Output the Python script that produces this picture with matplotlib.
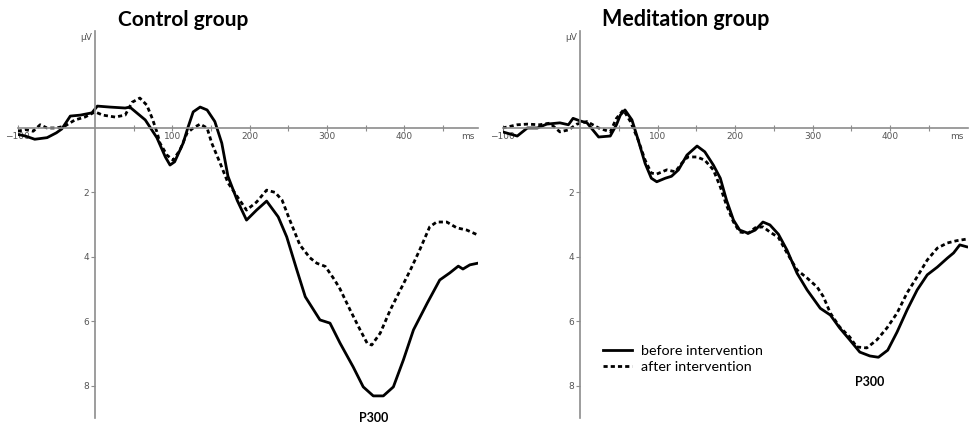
import matplotlib.pyplot as plt

# ERP waveforms (ms, µV), positive plotted downwards
ctrl_t_before = [-100, -90, -78, -62, -50, -43, -32, -19, -4, 3, 19, 39, 45, 65, 80, 91, 97, 103,
                 114, 120, 127, 136, 145, 155, 164, 172, 184, 196, 209, 222, 237, 248, 261, 272,
                 291, 304, 317, 334, 347, 360, 373, 386, 399, 412, 430, 446, 459, 470, 476, 485, 495]
ctrl_before = [0.2, 0.25, 0.35, 0.3, 0.15, 0.03, -0.37, -0.4, -0.47, -0.68, -0.65, -0.62, -0.65,
               -0.25, 0.3, 0.9, 1.15, 1.05, 0.47, 0.0, -0.5, -0.65, -0.56, -0.2, 0.47, 1.5, 2.25,
               2.86, 2.55, 2.27, 2.76, 3.38, 4.4, 5.24, 5.96, 6.06, 6.68, 7.42, 8.04, 8.32, 8.32,
               8.04, 7.2, 6.27, 5.43, 4.72, 4.5, 4.29, 4.38, 4.25, 4.2]

ctrl_t_after = [-100, -90, -80, -71, -62, -50, -39, -26, -13, 0, 10, 26, 39, 48, 58, 67, 74, 80,
                84, 93, 101, 110, 119, 127, 136, 145, 151, 162, 172, 184, 196, 209, 222, 233, 242,
                252, 265, 278, 287, 298, 310, 317, 330, 343, 352, 358, 369, 382, 395, 408, 420,
                433, 442, 455, 468, 481, 495]
ctrl_after = [0.1, 0.05, 0.1, -0.1, 0.0, 0.0, -0.06, -0.25, -0.34, -0.5, -0.4, -0.34, -0.4, -0.8,
              -0.93, -0.71, -0.3, 0.12, 0.47, 0.84, 1.0, 0.68, 0.16, 0.0, -0.12, 0.0, 0.47, 1.1,
              1.7, 2.13, 2.55, 2.3, 1.93, 2.0, 2.24, 2.86, 3.63, 4.03, 4.2, 4.3, 4.72, 5.0, 5.65,
              6.27, 6.68, 6.74, 6.37, 5.65, 5.03, 4.41, 3.79, 3.07, 2.92, 2.92, 3.1, 3.17, 3.32]

med_t_before = [-100, -81, -68, -55, -43, -26, -15, -9, 0, 9, 24, 39, 47, 52, 58, 67, 75, 84, 92,
                99, 110, 118, 127, 138, 151, 161, 172, 181, 189, 198, 206, 217, 226, 236, 245,
                256, 267, 280, 293, 310, 323, 335, 348, 361, 374, 385, 397, 409, 422, 435, 448,
                461, 474, 482, 490, 499]
med_before = [0.12, 0.25, 0.0, 0.0, -0.12, -0.16, -0.1, -0.3, -0.22, -0.16, 0.28, 0.25, -0.1,
              -0.4, -0.56, -0.25, 0.37, 1.1, 1.56, 1.67, 1.56, 1.5, 1.3, 0.84, 0.56, 0.74, 1.15,
              1.56, 2.24, 2.86, 3.17, 3.27, 3.17, 2.92, 3.01, 3.3, 3.79, 4.51, 5.03, 5.6, 5.81,
              6.21, 6.58, 6.96, 7.08, 7.12, 6.9, 6.34, 5.65, 5.03, 4.56, 4.32, 4.04, 3.88, 3.63,
              3.69]

med_t_after = [-100, -81, -68, -52, -39, -26, -15, -4, 9, 24, 39, 47, 56, 65, 75, 84, 92, 99, 112,
               123, 131, 139, 151, 161, 172, 181, 189, 198, 206, 217, 226, 236, 245, 256, 267, 280,
               293, 306, 314, 323, 335, 348, 357, 370, 383, 396, 409, 422, 435, 448, 461, 474,
               486, 499]
med_after = [0.0, -0.1, -0.12, -0.1, -0.15, 0.12, 0.06, -0.12, -0.2, 0.0, 0.12, -0.3, -0.56, -0.2,
             0.37, 1.0, 1.4, 1.43, 1.3, 1.36, 1.1, 0.9, 0.9, 1.0, 1.3, 1.83, 2.4, 2.92, 3.23,
             3.27, 3.1, 3.07, 3.23, 3.4, 3.88, 4.41, 4.66, 4.94, 5.24, 5.75, 6.18, 6.49, 6.8,
             6.83, 6.58, 6.21, 5.75, 5.12, 4.62, 4.1, 3.73, 3.57, 3.5, 3.45]

x_ticks = [-100, 100, 200, 300, 400]
x_minor = [50, 150, 250, 350, 450]
y_ticks = [2, 4, 6, 8]

GREY = '#8c8c8c'
TXT = '#555555'
DASH = (0, (1.5, 1.1))


def erp_axes(ax, xmax):
    ax.set_xlim(-100, xmax)
    ax.set_ylim(9, -3)
    for s in ['top', 'right']:
        ax.spines[s].set_visible(False)
    ax.spines['left'].set_position(('data', 0))
    ax.spines['bottom'].set_position(('data', 0))
    for s in ['left', 'bottom']:
        ax.spines[s].set_color(GREY)
        ax.spines[s].set_linewidth(1.2)
    ax.set_xticks(x_ticks)
    ax.set_xticks(x_minor, minor=True)
    ax.set_yticks(y_ticks)
    ax.tick_params(axis='x', which='both', direction='inout', length=4, width=0.8,
                   color=GREY, labelsize=6.5, labelcolor=TXT, pad=1)
    ax.tick_params(axis='y', direction='out', length=3, width=0.8, color=GREY,
                   labelsize=6.5, labelcolor=TXT, pad=1)
    ax.text(-4, -2.95, 'µV', ha='right', va='top', fontsize=6.5, color=TXT)
    ax.text(xmax - 5, 0.12, 'ms', ha='right', va='top', fontsize=6.5, color=TXT)


fig = plt.figure(figsize=(9.69, 4.23), dpi=100)
ax1 = fig.add_axes([0.0183, 0.0123, 0.4754, 0.9135])
ax2 = fig.add_axes([0.5186, 0.0123, 0.4799, 0.9135])

erp_axes(ax1, 496)
erp_axes(ax2, 500)

ax1.plot(ctrl_t_before, ctrl_before, '-', color='black', lw=2, label='before intervention')
ax1.plot(ctrl_t_after, ctrl_after, color='black', lw=2, ls=DASH, label='after intervention')
ax2.plot(med_t_before, med_before, '-', color='black', lw=2, label='before intervention')
ax2.plot(med_t_after, med_after, color='black', lw=2, ls=DASH, label='after intervention')

ax1.text(360, 9.0, 'P300', ha='center', va='center', fontsize=9, fontweight='bold',
         family='Lato', clip_on=False)
ax2.text(374, 7.9, 'P300', ha='center', va='center', fontsize=9, fontweight='bold',
         family='Lato')

fig.text(183 / 969, 1 - 20 / 423, 'Control group', ha='center', va='center',
         fontsize=15, fontweight='bold', family='Lato')
fig.text(686 / 969, 1 - 20 / 423, 'Meditation group', ha='center', va='center',
         fontsize=15.5, fontweight='bold', family='Lato')

ax2.legend(loc='center left', bbox_to_anchor=(603 / 969, 1 - 359 / 423),
           bbox_transform=fig.transFigure, frameon=False, borderpad=0, borderaxespad=0,
           handlelength=2.0, handletextpad=0.65, labelspacing=0.3,
           prop={'family': 'Lato', 'size': 10.3})

fig.savefig('out.png', dpi=100)
